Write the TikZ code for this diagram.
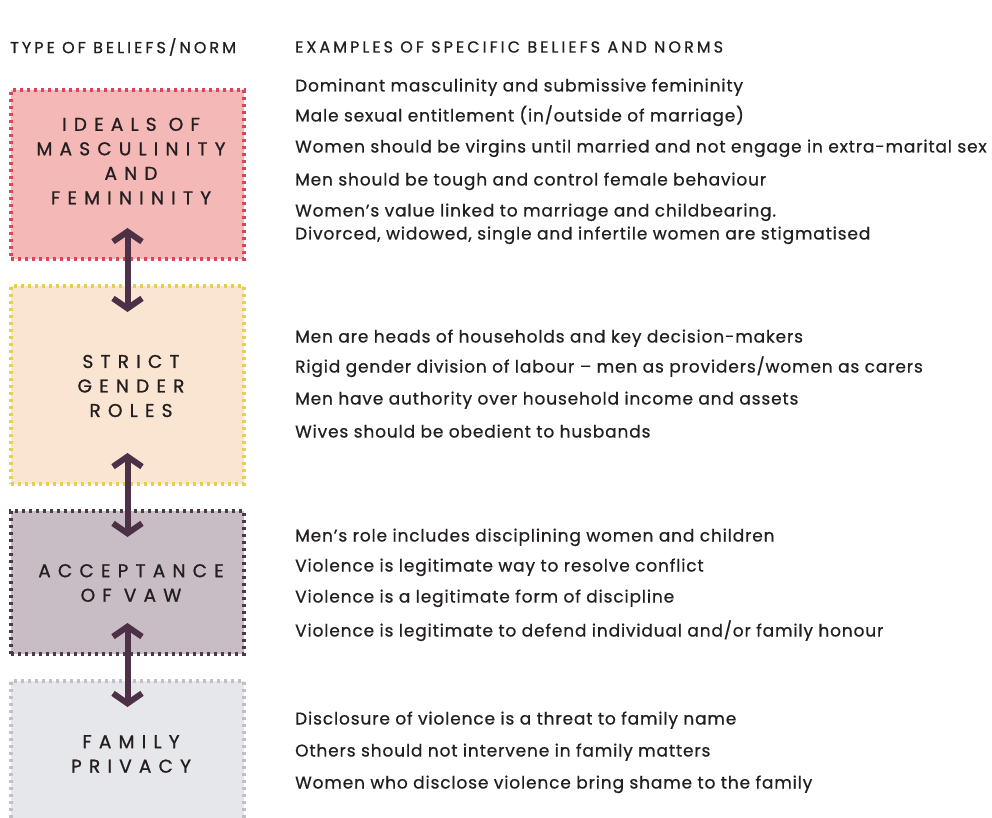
\documentclass[tikz,border=0pt]{standalone}
\usepackage{fontspec}
\setmainfont{Poppins}[LetterSpace=5,FakeBold=0.7]
\newfontfamily\labelfont{Poppins}[LetterSpace=39,FakeBold=1.1]
\newfontfamily\headfont{Poppins}[LetterSpace=19,FakeBold=0.8]
\usetikzlibrary{arrows.meta,positioning}
\definecolor{inkc}{HTML}{231F20}
\definecolor{idealsfill}{HTML}{F4B8B6}
\definecolor{idealsline}{HTML}{D9465C}
\definecolor{rolesfill}{HTML}{FAE5D3}
\definecolor{rolesline}{HTML}{E6CF4E}
\definecolor{vawfill}{HTML}{C9BDC5}
\definecolor{vawline}{HTML}{4A3A4B}
\definecolor{privfill}{HTML}{E6E7EA}
\definecolor{privline}{HTML}{BFC1C6}
\definecolor{arrowc}{HTML}{4B3046}
\tikzstyle{normbox} = [draw, rectangle, line width=3.2pt,
    dash pattern=on 3.2pt off 3.8pt, minimum width=233pt,
    inner sep=0pt, outer sep=0pt]
\tikzstyle{boxlabel} = [text=inkc, align=center,
    font=\labelfont\fontsize{18.5}{24.5}\selectfont]
\tikzstyle{normtext} = [anchor=west, text=inkc, inner sep=0pt,
    text height=0.75em, text depth=0.25em,
    font=\fontsize{17}{22}\selectfont]
\tikzstyle{head} = [anchor=west, text=inkc, inner sep=0pt,
    font=\headfont\fontsize{16}{18}\selectfont]
\tikzstyle{link} = [arrowc, line width=6pt,
    {Straight Barb[length=10pt,width=29pt]}-{Straight Barb[length=10pt,width=29pt]},
    shorten <=-31pt, shorten >=-26pt]

\begin{document}
\begin{tikzpicture}[x=1pt,y=-1pt]
    \useasboundingbox (0,0) rectangle (992,818);

    % column headings
    \node [head] (typehead) at (10,47) {TYPE OF BELIEFS/NORM};
    \node [head] (examplehead) at (295,47) {EXAMPLES OF SPECIFIC BELIEFS AND NORMS};

    % the four norm boxes
    \node [normbox, fill=idealsfill, draw=idealsline, minimum height=169pt]
        (ideals) at (127.5,174.5) {};
    \node [normbox, fill=rolesfill, draw=rolesline, minimum height=198pt]
        (roles) at (127.5,385) {};
    \node [normbox, fill=vawfill, draw=vawline, minimum height=143pt]
        (vaw) at (127.5,582.5) {};
    \node [normbox, fill=privfill, draw=privline, minimum height=149pt]
        (privacy) at (127.5,755.5) {};

    \node [boxlabel] (idealslabel) at (131,161)
        {IDEALS OF\\MASCULINITY\\AND\\FEMININITY};
    \node [boxlabel] (roleslabel) at (131,386) {STRICT\\GENDER\\ROLES};
    \node [boxlabel] (vawlabel) at (131,583) {ACCEPTANCE\\OF VAW};
    \node [boxlabel] (privacylabel) at (131,754) {FAMILY\\PRIVACY};

    % links between the boxes
    \draw [link] (ideals.south) -- (roles.north);
    \draw [link] (roles.south) -- (vaw.north);
    \draw [link] (vaw.south) -- (privacy.north);

    % examples for each type
    \node [normtext] (ideals1) at (295,89) {Dominant masculinity and submissive femininity};
    \node [normtext] (ideals2) at (295,119) {Male sexual entitlement (in/outside of marriage)};
    \node [normtext] (ideals3) at (295,150) {Women should be virgins until married and not engage in extra-marital sex};
    \node [normtext] (ideals4) at (295,183) {Men should be tough and control female behaviour};
    \node [normtext] (ideals5) at (295,214) {Women’s value linked to marriage and childbearing.};
    \node [normtext] (ideals6) at (295,237) {Divorced, widowed, single and infertile women are stigmatised};

    \node [normtext] (roles1) at (295,340) {Men are heads of households and key decision-makers};
    \node [normtext] (roles2) at (295,370) {Rigid gender division of labour – men as providers/women as carers};
    \node [normtext] (roles3) at (295,402) {Men have authority over household income and assets};
    \node [normtext] (roles4) at (295,435) {Wives should be obedient to husbands};

    \node [normtext] (vaw1) at (295,539) {Men’s role includes disciplining women and children};
    \node [normtext] (vaw2) at (295,569) {Violence is legitimate way to resolve conflict};
    \node [normtext] (vaw3) at (295,600) {Violence is a legitimate form of discipline};
    \node [normtext] (vaw4) at (295,634) {Violence is legitimate to defend individual and/or family honour};

    \node [normtext] (privacy1) at (295,722) {Disclosure of violence is a threat to family name};
    \node [normtext] (privacy2) at (295,754) {Others should not intervene in family matters};
    \node [normtext] (privacy3) at (295,786) {Women who disclose violence bring shame to the family};
\end{tikzpicture}
\end{document}
